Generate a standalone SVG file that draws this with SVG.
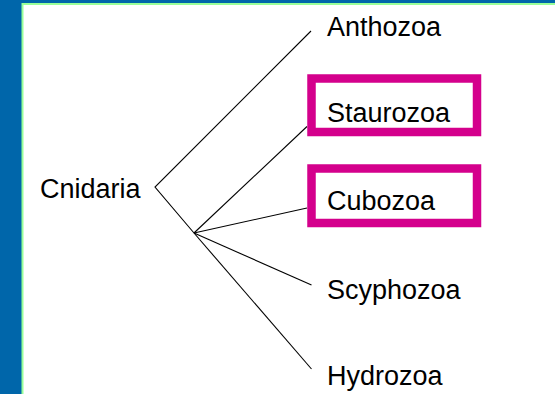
<svg xmlns="http://www.w3.org/2000/svg" width="555" height="394" viewBox="0 0 555 394">
<style>
.lbl{font-family:"Liberation Sans",Arial,sans-serif;font-size:27px;fill:#000}
.edge{stroke:#000;stroke-width:1.1;fill:none}
.hl{fill:none;stroke:#d4008c;stroke-width:8.5}
</style>
<rect x="0" y="0" width="555" height="394" fill="#0066aa"/>
<rect x="21.5" y="3" width="533.5" height="391" fill="#99ff99"/>
<rect x="23.5" y="5" width="531.5" height="389" fill="#ffffff"/>
<g id="connectors">
<polyline class="edge" points="311,31 155,187 194,233"/>
<line class="edge" x1="194" y1="233" x2="307" y2="126.5"/>
<line class="edge" x1="194" y1="233" x2="307" y2="208"/>
<line class="edge" x1="194" y1="233" x2="311.5" y2="285"/>
<line class="edge" x1="194" y1="233" x2="311.5" y2="369"/>
</g>
<g id="cnidaria"><text class="lbl" x="40" y="198">Cnidaria</text></g>
<g id="anthozoa"><text class="lbl" x="327" y="36">Anthozoa</text></g>
<g id="staurozoa"><rect class="hl" x="311.5" y="78.5" width="165.5" height="53.5"/><text class="lbl" x="327" y="122">Staurozoa</text></g>
<g id="cubozoa"><rect class="hl" x="311.5" y="168.5" width="165.5" height="54.5"/><text class="lbl" x="327" y="210">Cubozoa</text></g>
<g id="scyphozoa"><text class="lbl" x="327" y="299">Scyphozoa</text></g>
<g id="hydrozoa"><text class="lbl" x="327" y="385">Hydrozoa</text></g>
</svg>
